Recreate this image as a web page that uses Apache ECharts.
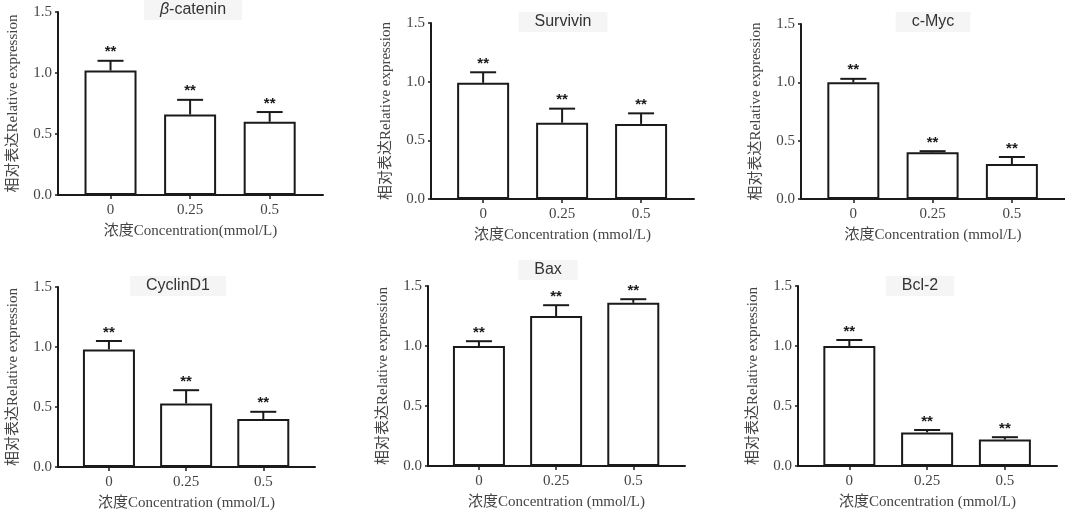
<!DOCTYPE html>
<html>
<head>
<meta charset="utf-8">
<script src="https://cdn.jsdelivr.net/npm/echarts@6/dist/echarts.min.js"></script>
<style>
  html, body { margin: 0; padding: 0; background: #fff; }
  #main { width: 1065px; height: 516px; }
</style>
</head>
<body>
<div id="main"></div>
<script>
const doses = ['0', '0.25', '0.5'];
const genes = ['β-catenin', 'Survivin', 'c-Myc', 'CyclinD1', 'Bax', 'Bcl-2'];

// mean relative expression per dose, and upper SD
const betaCateninMean = [1.02, 0.66, 0.60];
const betaCateninSd = [0.08, 0.12, 0.08];
const survivinMean = [0.99, 0.65, 0.64];
const survivinSd = [0.09, 0.12, 0.09];
const cMycMean = [1.00, 0.40, 0.30];
const cMycSd = [0.03, 0.01, 0.06];
const cyclinD1Mean = [0.98, 0.53, 0.40];
const cyclinD1Sd = [0.07, 0.11, 0.06];
const baxMean = [1.00, 1.25, 1.36];
const baxSd = [0.04, 0.09, 0.03];
const bcl2Mean = [1.00, 0.28, 0.22];
const bcl2Sd = [0.05, 0.02, 0.02];

const means = [betaCateninMean, survivinMean, cMycMean, cyclinD1Mean, baxMean, bcl2Mean];
const sds = [betaCateninSd, survivinSd, cMycSd, cyclinD1Sd, baxSd, bcl2Sd];
const xNames = [
  '浓度Concentration(mmol/L)',
  '浓度Concentration (mmol/L)',
  '浓度Concentration (mmol/L)',
  '浓度Concentration (mmol/L)',
  '浓度Concentration (mmol/L)',
  '浓度Concentration (mmol/L)'
];

// panel boxes: left, right edge, top (1.5), bottom (0.0)
const boxes = [
  {l: 58, r: 323, t: 12, b: 195},
  {l: 431, r: 694, t: 23, b: 199},
  {l: 801, r: 1066, t: 24, b: 199},
  {l: 58, r: 315, t: 287, b: 467},
  {l: 428, r: 685, t: 286, b: 466},
  {l: 798, r: 1057, t: 286, b: 466}
];
const titlePos = [[193, 10], [563, 22], [933, 22], [178, 286], [548, 270], [920, 286]];

const serif = '"Liberation Serif", "Noto Sans CJK SC", serif';
const sans = '"Liberation Sans", Arial, sans-serif';
const ink = '#1a1a1a';

const grids = [], xAxes = [], yAxes = [], series = [], graphics = [];
boxes.forEach((b, i) => {
  grids.push({left: b.l, top: b.t, width: b.r - b.l, height: b.b - b.t});
  xAxes.push({
    type: 'value', gridIndex: i, min: -0.66, max: 2.67,
    name: xNames[i], nameLocation: 'middle', nameGap: 29,
    nameTextStyle: {fontFamily: serif, fontSize: 15, color: '#444'},
    axisLine: {show: true, onZero: false, lineStyle: {color: ink, width: 2}},
    axisTick: {show: true, customValues: [0, 1, 2], length: 4, lineStyle: {color: ink, width: 1.5}},
    axisLabel: {
      customValues: [0, 1, 2], margin: 8,
      fontFamily: serif, fontSize: 15, color: '#444',
      formatter: v => doses[Math.round(v)]
    },
    splitLine: {show: false}
  });
  yAxes.push({
    type: 'value', gridIndex: i, min: 0, max: 1.5, interval: 0.5,
    name: '相对表达Relative expression', nameLocation: 'middle', nameGap: 37,
    nameTextStyle: {fontFamily: serif, fontSize: 15, color: '#444'},
    axisLine: {show: true, onZero: false, lineStyle: {color: ink, width: 2}},
    axisTick: {show: true, length: 3, lineStyle: {color: ink, width: 1.5}},
    axisLabel: {
      margin: 6, fontFamily: serif, fontSize: 15, color: '#444',
      formatter: v => v.toFixed(1)
    },
    splitLine: {show: false}
  });
  series.push({
    type: 'bar', xAxisIndex: i, yAxisIndex: i, barWidth: 52,
    data: means[i].map((m, k) => [k, m]),
    itemStyle: {color: '#fff', borderColor: ink, borderWidth: 2},
    silent: true
  });
  series.push({
    type: 'custom', xAxisIndex: i, yAxisIndex: i,
    data: means[i].map((m, k) => [k, m, m + sds[i][k]]),
    renderItem(params, api) {
      const base = api.coord([api.value(0), api.value(1)]);
      const top = api.coord([api.value(0), api.value(2)]);
      const half = 13;
      const st = {stroke: ink, lineWidth: 2};
      return {
        type: 'group',
        children: [
          {type: 'line', shape: {x1: base[0], y1: base[1], x2: top[0], y2: top[1]}, style: st},
          {type: 'line', shape: {x1: top[0] - half, y1: top[1], x2: top[0] + half, y2: top[1]}, style: st},
          {type: 'text', x: top[0], y: top[1] - 1,
            style: {text: '**', align: 'center', verticalAlign: 'bottom',
              font: 'bold 15px ' + sans, fill: ink}}
        ]
      };
    },
    z: 3, silent: true
  });
  const isBeta = genes[i] === 'β-catenin';
  graphics.push({
    type: 'text', x: titlePos[i][0], y: titlePos[i][1], z: 10,
    style: {
      text: isBeta ? '{i|β}-catenin' : genes[i],
      align: 'center', verticalAlign: 'middle',
      font: '16px ' + sans, fill: '#333',
      backgroundColor: '#f5f5f5', padding: [2, 16],
      rich: {i: {font: 'italic 16px ' + sans, fill: '#333'}}
    }
  });
});

const chart = echarts.init(document.getElementById('main'));
chart.setOption({
  animation: false,
  backgroundColor: '#fff',
  grid: grids,
  xAxis: xAxes,
  yAxis: yAxes,
  series: series,
  graphic: graphics
});
</script>
</body>
</html>
